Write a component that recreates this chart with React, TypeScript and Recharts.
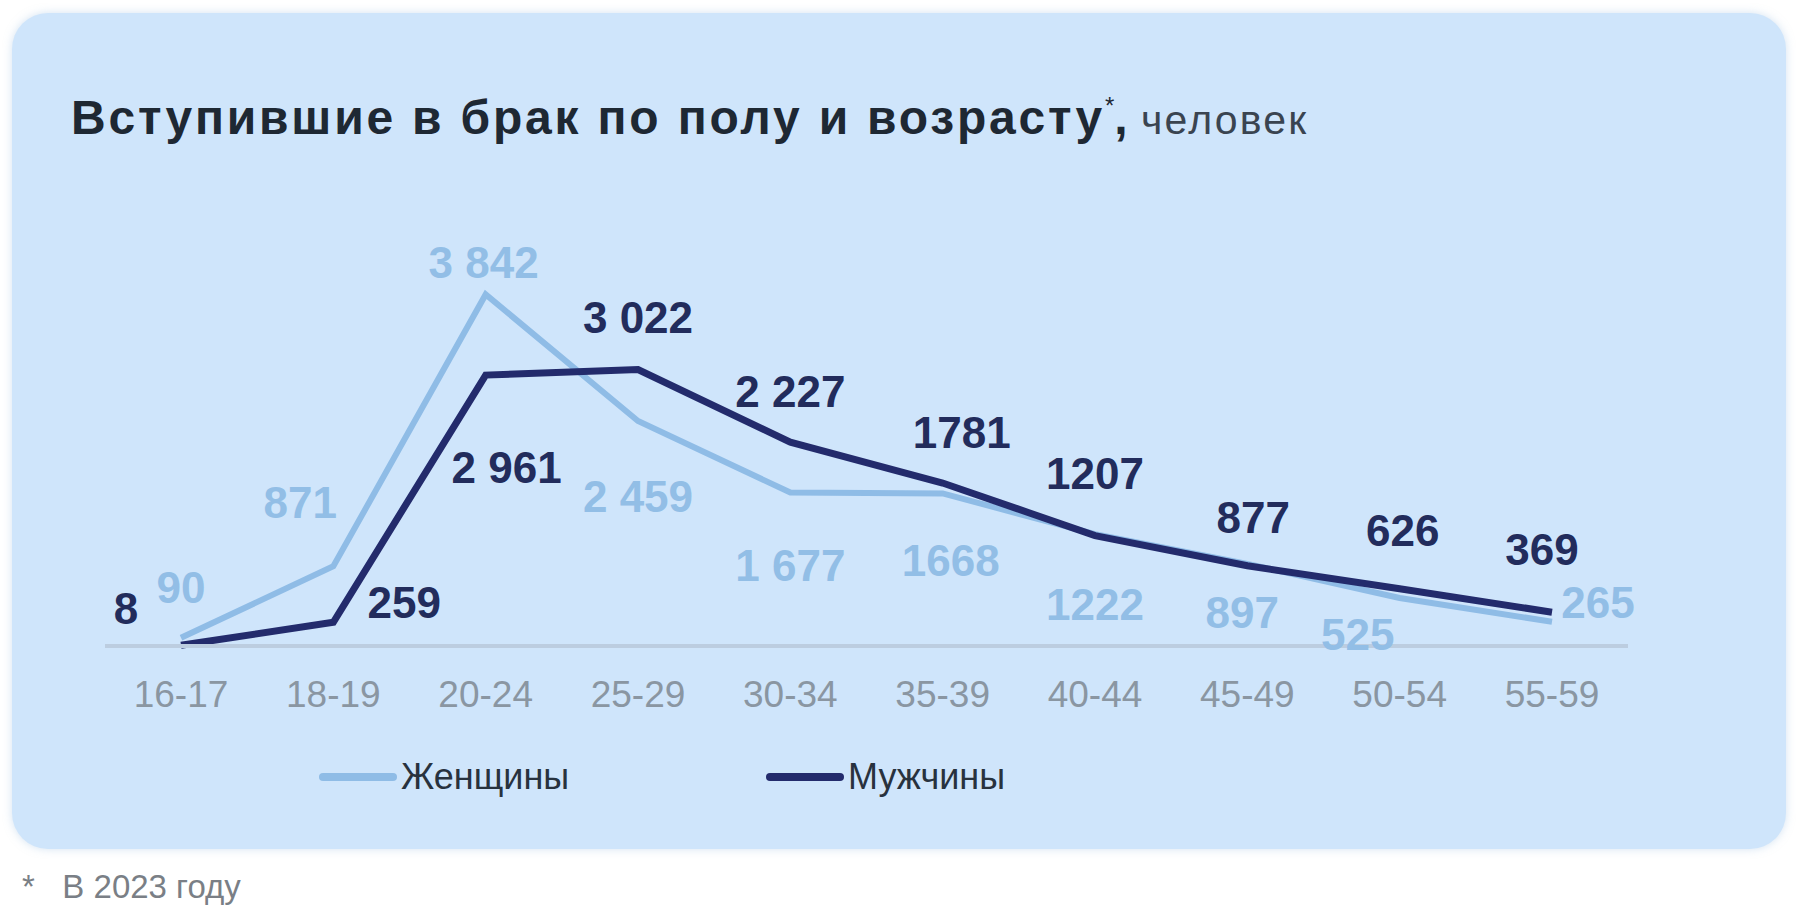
import React from 'react';
import { LineChart, Line, XAxis, YAxis, LabelList } from 'recharts';

const ageGroups = ['16-17', '18-19', '20-24', '25-29', '30-34', '35-39', '40-44', '45-49', '50-54', '55-59'];
const women = [90, 871, 3842, 2459, 1677, 1668, 1222, 897, 525, 265];
const men = [8, 259, 2961, 3022, 2227, 1781, 1207, 877, 626, 369];
const womenLabels = ['90', '871', '3 842', '2 459', '1 677', '1668', '1222', '897', '525', '265'];
const menLabels = ['8', '259', '2 961', '3 022', '2 227', '1781', '1207', '877', '626', '369'];

// label offsets from the point (label centre), px
const womenOffsets = [[0, -50], [-33, -64], [-2, -32], [0, 75], [0, 73], [8, 67], [0, 70], [-5, 49], [-42, 37], [46, -19]];
const menOffsets = [[-55, -37], [71, -20], [21, 92], [0, -52], [0, -51], [19, -51], [0, -62], [6, -48], [3, -58], [-10, -63]];

const WOMEN_LINE = '#8fbce6';
const WOMEN_TEXT = '#92bee6';
const MEN_LINE = '#232b6c';
const MEN_TEXT = '#222c5c';

const data = ageGroups.map((g, i) => ({ age: g, women: women[i], men: men[i] }));

const makeLabel = (labels: string[], offsets: number[][], color: string) => (props: any) => {
  const { x, y, index } = props;
  const [dx, dy] = offsets[index];
  return (
    <text
      x={x + dx}
      y={y + dy}
      textAnchor="middle"
      dominantBaseline="central"
      fill={color}
      fontSize={44}
      fontWeight="bold"
      fontFamily="'Liberation Sans', Arial, sans-serif"
    >
      {labels[index]}
    </text>
  );
};

const App = () => {
  return (
    <div style={{ position: 'absolute', left: 0, top: 0, width: 1800, height: 915, background: '#fff', fontFamily: "'Liberation Sans', Arial, sans-serif" }}>
      <div style={{
        position: 'absolute', left: 12, top: 13, width: 1774, height: 836,
        borderRadius: 36, background: '#cfe5fb', boxShadow: '0 0 8px rgba(170,200,230,0.5)'
      }} />
      <div style={{ position: 'absolute', left: 71, top: 94, lineHeight: 1, whiteSpace: 'nowrap' }}>
        <span style={{ fontSize: 48, fontWeight: 'bold', color: '#1e2833', letterSpacing: 2.8 }}>Вступившие в брак по полу и возрасту</span>
        <span style={{ fontSize: 24, color: '#1e2833', verticalAlign: 'top' }}>*</span>
        <span style={{ fontSize: 48, fontWeight: 'bold', color: '#1e2833' }}>, </span>
        <span style={{ fontSize: 41, color: '#3a4450', letterSpacing: 2.2 }}>человек</span>
      </div>
      <div style={{ position: 'absolute', left: 0, top: 0 }}>
        <LineChart width={1800} height={915} data={data} margin={{ top: 280, right: 172, bottom: 219, left: 105 }}>
          <XAxis
            dataKey="age"
            padding={{ left: 76, right: 76 }}
            height={50}
            tickLine={false}
            axisLine={{ stroke: '#bccde0', strokeWidth: 4 }}
            tickMargin={29}
            tick={{ fontSize: 37, fill: '#8a96a2', fontFamily: "'Liberation Sans', Arial, sans-serif" }}
            interval={0}
          />
          <YAxis hide domain={[0, 4000]} />
          <Line type="linear" dataKey="women" stroke={WOMEN_LINE} strokeWidth={6} dot={false} isAnimationActive={false}>
            <LabelList dataKey="women" content={makeLabel(womenLabels, womenOffsets, WOMEN_TEXT)} />
          </Line>
          <Line type="linear" dataKey="men" stroke={MEN_LINE} strokeWidth={7} dot={false} isAnimationActive={false}>
            <LabelList dataKey="men" content={makeLabel(menLabels, menOffsets, MEN_TEXT)} />
          </Line>
        </LineChart>
      </div>
      {[
        { name: 'Женщины', color: WOMEN_LINE, left: 319 },
        { name: 'Мужчины', color: MEN_LINE, left: 766 },
      ].map((item) => (
        <div key={item.name} style={{ position: 'absolute', left: item.left, top: 757, height: 40, display: 'flex', alignItems: 'center' }}>
          <div style={{ width: 78, height: 8, background: item.color, borderRadius: 4 }} />
          <span style={{ fontSize: 36, color: '#28323e', marginLeft: 4 }}>{item.name}</span>
        </div>
      ))}
      <div style={{ position: 'absolute', left: 22, top: 868, fontSize: 33, color: '#7a7f86', whiteSpace: 'pre' }}>
        {'*   В 2023 году'}
      </div>
    </div>
  );
};

export default App;
